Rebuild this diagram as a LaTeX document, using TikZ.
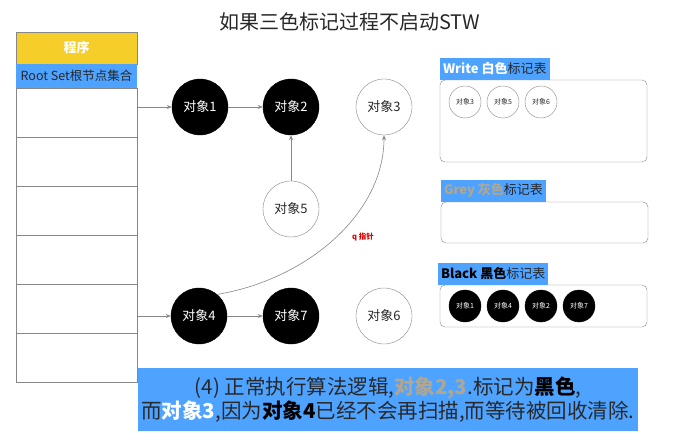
\documentclass[tikz,border=0pt]{standalone}
\usepackage{fontspec}
\setmainfont{Noto Sans CJK SC}
\usetikzlibrary{arrows.meta}
\definecolor{hdrblue}{RGB}{77,163,255}
\definecolor{hdryellow}{RGB}{246,206,42}
\definecolor{greytxt}{RGB}{178,166,142}
\definecolor{edgegray}{RGB}{135,135,135}
\definecolor{inkgray}{RGB}{40,40,40}
\tikzset{
  obj/.style={circle,draw=edgegray,minimum size=56pt,inner sep=0pt,text=inkgray,font=\fontsize{13}{15}\selectfont},
  blackobj/.style={obj,fill=black,draw=black,text=white},
  mini/.style={circle,draw=edgegray,minimum size=32pt,inner sep=0pt,text=inkgray,font=\fontsize{7}{8}\selectfont},
  blackmini/.style={mini,fill=black,draw=black,text=white},
  cell/.style={draw=edgegray,minimum width=121pt,minimum height=49pt,inner sep=0pt},
  panel/.style={draw=edgegray,rounded corners=5pt,minimum width=207pt,inner sep=0pt},
  tabhdr/.style={fill=hdrblue,anchor=south west,inner xsep=3pt,minimum height=22pt,text=inkgray,font=\fontsize{13}{15}\selectfont},
  ref/.style={-{Stealth[length=5pt,width=4pt]},edgegray,line width=0.6pt},
}
\begin{document}
\begin{tikzpicture}[x=1pt,y=-1pt]
\useasboundingbox[fill=white] (0,0) rectangle (695,443);

\node[text=inkgray,font=\fontsize{20}{24}\selectfont] (title) at (350,22) {如果三色标记过程不启动STW};

\node[fill=hdryellow,draw=edgegray,minimum width=121pt,minimum height=32pt,inner sep=0pt,text=white,font=\bfseries\fontsize{13}{15}\selectfont] (prog) at (76.5,48) {程序};
\node[fill=hdrblue,minimum width=121pt,minimum height=24pt,inner sep=0pt,text=inkgray,font=\fontsize{12.5}{15}\selectfont] (rootset) at (76.5,76) {Root Set根节点集合};
\foreach \i in {1,...,6}
  \node[cell] (row\i) at (76.5,{63.5+49*\i}) {};

\node[blackobj] (o1) at (200,107) {对象1};
\node[blackobj] (o2) at (291,107) {对象2};
\node[obj] (o3) at (384,107) {对象3};
\node[obj] (o5) at (291,209) {对象5};
\node[blackobj] (o4) at (199,316) {对象4};
\node[blackobj] (o7) at (291,316) {对象7};
\node[obj] (o6) at (384,316) {对象6};

\draw[ref] (row1.east |- o1) -- (o1);
\draw[ref] (o1) -- (o2);
\draw[ref] (o5) -- (o2);
\draw[ref] (row5.east |- o4) -- (o4);
\draw[ref] (o4) -- (o7);
\draw[ref] (o4.50) .. controls (305,280) and (384,215) .. (o3.south);
\node[text=red!85!black,font=\bfseries\fontsize{7.5}{9}\selectfont] (qptr) at (363,237) {q 指针};

\node[panel,minimum height=82pt] (white) at (543.5,121) {};
\node[tabhdr] (whitehdr) at (white.north west) {\textcolor{white}{\bfseries Write 白色}标记表};
\node[mini] (w3) at (465,102) {对象3};
\node[mini] (w5) at (503,102) {对象5};
\node[mini] (w6) at (541,102) {对象6};

\node[panel,minimum height=41pt] (grey) at (544.5,222.5) {};
\node[tabhdr] (greyhdr) at (grey.north west) {\textcolor{greytxt}{\bfseries Grey 灰色}标记表};

\node[panel,minimum height=42pt] (black) at (543.5,306) {};
\node[tabhdr] (blackhdr) at ([xshift=-2pt]black.north west) {\textcolor{black}{\bfseries Black 黑色}标记表};
\node[blackmini] (b1) at (465,306) {对象1};
\node[blackmini] (b4) at (503,306) {对象4};
\node[blackmini] (b2) at (541,306) {对象2};
\node[blackmini] (b7) at (579,306) {对象7};

\node[fill=hdrblue,minimum width=498pt,minimum height=63pt,align=center,text=inkgray,font=\fontsize{20.5}{24}\selectfont] (note) at (388,399.5)
  {(4) 正常执行算法逻辑,\textcolor{greytxt}{\bfseries 对象2,3}.标记为{\bfseries\color{black}黑色},\\
   而\textcolor{white}{\bfseries 对象3},因为{\bfseries\color{black}对象4}已经不会再扫描,而等待被回收清除.};
\end{tikzpicture}
\end{document}
